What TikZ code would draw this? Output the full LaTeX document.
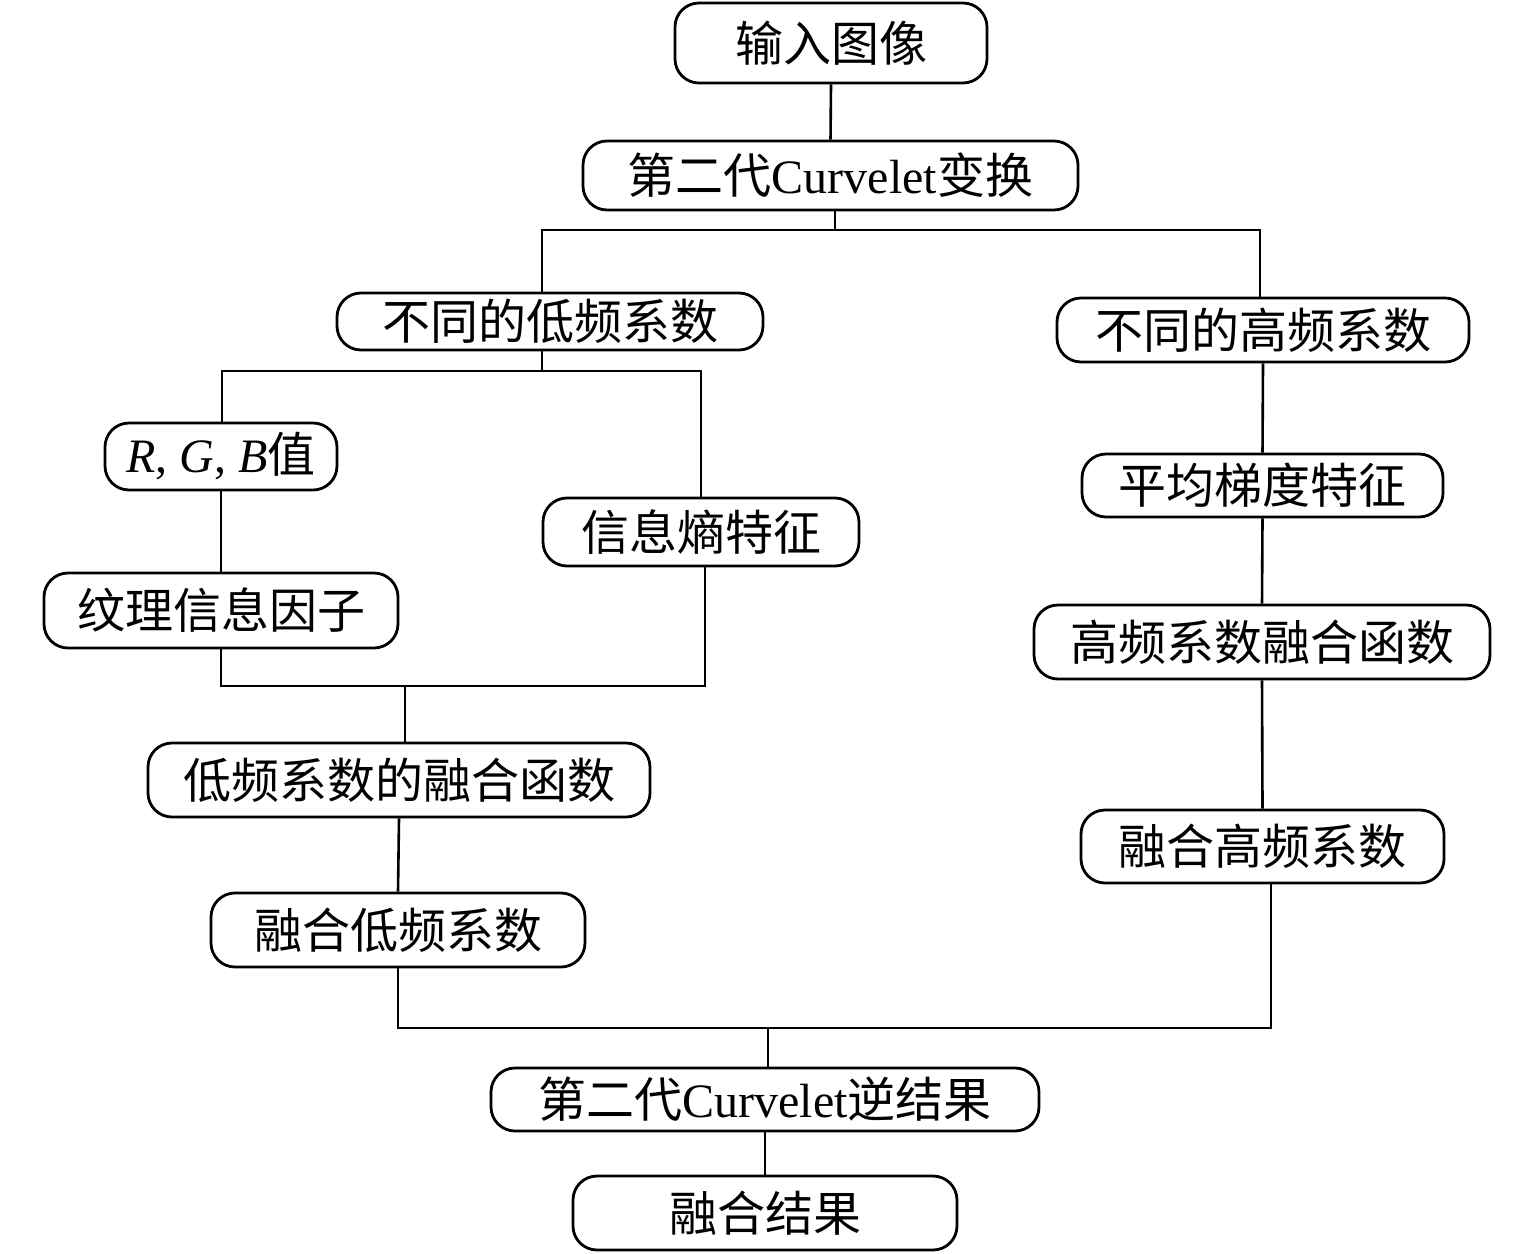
\documentclass[tikz,border=0pt]{standalone}
\usepackage{fontspec}
\setmainfont{Liberation Serif}
\newfontfamily\cjk{Noto Sans CJK SC}
\begin{document}
\begin{tikzpicture}[x=0.5pt,y=-0.5pt,
  box/.style={draw=black, line width=1.4pt, rounded corners=12pt, inner sep=0pt,
    font=\fontsize{24}{28}\selectfont, align=center},
  conn/.style={line width=1.3pt, black}]
\useasboundingbox (0,0) rectangle (1535,1253);
\node[box, minimum width=156pt, minimum height=40pt] (in) at (831,43) {{\cjk 输入图像}};
\node[box, minimum width=247.5pt, minimum height=34.5pt] (ct) at (830.5,175.5) {{\cjk 第二代}Curvelet{\cjk 变换}};
\node[box, minimum width=213pt, minimum height=28.5pt] (low) at (550,321.5) {{\cjk 不同的低频系数}};
\node[box, minimum width=206pt, minimum height=32pt] (high) at (1263,330) {{\cjk 不同的高频系数}};
\node[box, minimum width=116pt, minimum height=33.5pt] (rgb) at (221,456.5) {\textit{R}, \textit{G}, \textit{B}{\cjk 值}};
\node[box, minimum width=158pt, minimum height=34pt] (ent) at (701,532) {{\cjk 信息熵特征}};
\node[box, minimum width=177pt, minimum height=37.5pt] (tex) at (221,610.5) {{\cjk 纹理信息因子}};
\node[box, minimum width=180.5pt, minimum height=31.5pt] (grad) at (1262.5,485.5) {{\cjk 平均梯度特征}};
\node[box, minimum width=228pt, minimum height=37pt] (hff) at (1262,642) {{\cjk 高频系数融合函数}};
\node[box, minimum width=251pt, minimum height=37pt] (lff) at (399,780) {{\cjk 低频系数的融合函数}};
\node[box, minimum width=187pt, minimum height=37pt] (fl) at (398,930) {{\cjk 融合低频系数}};
\node[box, minimum width=181.5pt, minimum height=36.5pt] (fh) at (1262.5,846.5) {{\cjk 融合高频系数}};
\node[box, minimum width=274pt, minimum height=31.5pt] (inv) at (765,1099.5) {{\cjk 第二代}Curvelet{\cjk 逆结果}};
\node[box, minimum width=192pt, minimum height=37pt] (res) at (765,1213) {{\cjk 融合结果}};
\coordinate (s0) at (835,230);
\coordinate (s1) at (542,230);
\coordinate (s2) at (1260,230);
\coordinate (s3) at (542,371);
\coordinate (s4) at (701,371);
\coordinate (s5) at (705,686);
\coordinate (s6) at (405,686);
\coordinate (s7) at (1271,1028);
\coordinate (s8) at (768,1028);
\coordinate (s9) at (222,371);
\draw[conn] (in.south) -- (ct.north);
\draw[conn] (ct.south -| s0) -- (s0);
\draw[conn] (low.north -| s1) -- (s1) -- (s2) -- (high.north -| s2);
\draw[conn] (low.south -| s3) -- (s3);
\draw[conn] (rgb.north -| s9) -- (s9) -- (s4) -- (ent.north -| s4);
\draw[conn] (rgb.south) -- (tex.north);
\draw[conn] (tex.south) |- (s5) -- (ent.south -| s5);
\draw[conn] (lff.north -| s6) -- (s6);
\draw[conn] (lff.south) -- (fl.north);
\draw[conn] (fl.south) |- (s7) -- (fh.south -| s7);
\draw[conn] (inv.north -| s8) -- (s8);
\draw[conn] (inv.south) -- (res.north);
\draw[conn] (high.south) -- (grad.north);
\draw[conn] (grad.south) -- (hff.north);
\draw[conn] (hff.south) -- (fh.north);
\end{tikzpicture}
\end{document}
